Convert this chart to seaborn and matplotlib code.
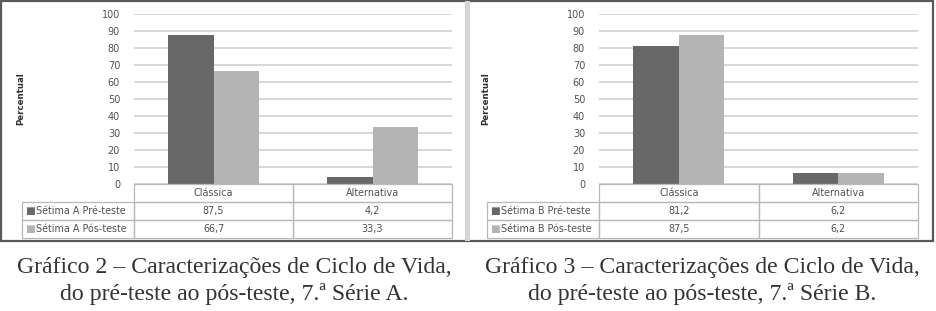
import matplotlib
matplotlib.use("Agg")
import matplotlib.pyplot as plt
import seaborn as sns
import pandas as pd
from matplotlib.patches import Rectangle

categories = ["Clássica", "Alternativa"]
series_a = ["Sétima A Pré-teste", "Sétima A Pós-teste"]
values_a_pre = [87.5, 4.2]
values_a_pos = [66.7, 33.3]
series_b = ["Sétima B Pré-teste", "Sétima B Pós-teste"]
values_b_pre = [81.2, 6.2]
values_b_pos = [87.5, 6.2]
y_ticks = [0, 10, 20, 30, 40, 50, 60, 70, 80, 90, 100]
captions = [
    "Gráfico 2 – Caracterizações de Ciclo de Vida,\ndo pré-teste ao pós-teste, 7.ª Série A.",
    "Gráfico 3 – Caracterizações de Ciclo de Vida,\ndo pré-teste ao pós-teste, 7.ª Série B.",
]

sns.set_theme(style="white")
plt.rcParams["font.family"] = ["DejaVu Sans"]

W, H = 936, 311
fig = plt.figure(figsize=(W / 100, H / 100), dpi=100)
fig.patch.set_facecolor("white")

DARK = "#686868"
LIGHT = "#b4b4b4"
GRID = "#d4d4d4"
TXT = "#505050"
EDGE = "#b8b8b8"


def fx(px):
    return px / W


def fy(py):
    return 1 - py / H


# frame
fig.patches.append(Rectangle((fx(1), fy(241)), fx(932), (240) / H, transform=fig.transFigure,
                             fill=False, edgecolor="#5a5a5a", linewidth=1.6, zorder=0))
fig.patches.append(Rectangle((fx(465), fy(241)), fx(5), (240) / H, transform=fig.transFigure,
                             facecolor="#d6d6d6", edgecolor="none", zorder=0))


def panel(x0, x1, series, pre, pos, caption, cap_x):
    pw = x1 - x0
    ph = 170
    ax = fig.add_axes([fx(x0), fy(184), fx(pw), ph / H])
    df = pd.DataFrame({
        "cat": categories * 2,
        "serie": [series[0]] * 2 + [series[1]] * 2,
        "val": list(pre) + list(pos),
    })
    sns.barplot(data=df, x="cat", y="val", hue="serie", order=categories,
                hue_order=series, palette=[DARK, LIGHT], width=0.57,
                saturation=1, ax=ax, legend=False, zorder=3, linewidth=0)
    ax.set_ylim(0, 100)
    ax.set_xlim(-0.5, 1.5)
    ax.set_yticks(y_ticks)
    ax.yaxis.grid(True, color=GRID, linewidth=1.3, zorder=0)
    ax.set_axisbelow(True)
    for s in ax.spines.values():
        s.set_visible(False)
    ax.tick_params(axis="y", length=0, pad=10, labelsize=7, labelcolor=TXT)
    ax.set_xticks([])
    ax.set_xlabel("")
    ax.set_ylabel("Percentual", fontsize=6.2, fontweight="bold", color="#303030")
    ax.yaxis.set_label_coords(-109 / pw, 0.5)

    # data table below the plot (axes-fraction layout)
    rh = 18 / ph
    lab_l = -112 / pw
    colw = 0.5

    def cell(xl, yb, w, h):
        ax.add_patch(Rectangle((xl, yb), w, h, transform=ax.transAxes, fill=False,
                               edgecolor=EDGE, linewidth=0.9, clip_on=False, zorder=4))

    for j, cat in enumerate(categories):
        cell(j * colw, -rh, colw, rh)
        ax.text(j * colw + colw / 2, -rh / 2, cat, transform=ax.transAxes,
                ha="center", va="center", fontsize=6.9, color=TXT)
    rows = [(series[0], pre, DARK), (series[1], pos, LIGHT)]
    for i, (name, vals, col) in enumerate(rows):
        yb = -rh * (i + 2)
        cell(lab_l, yb, -lab_l, rh)
        ax.text(-104 / pw, yb + rh / 2, "■", transform=ax.transAxes,
                ha="center", va="center", fontsize=7.5, color=col)
        ax.text(-98 / pw, yb + rh / 2, name, transform=ax.transAxes,
                ha="left", va="center", fontsize=6.9, color=TXT)
        for j, v in enumerate(vals):
            cell(j * colw, yb, colw, rh)
            ax.text(j * colw + colw / 2, yb + rh / 2, f"{v:.1f}".replace(".", ","),
                    transform=ax.transAxes, ha="center", va="center",
                    fontsize=6.9, color=TXT)

    fig.text(fx(cap_x), fy(281), caption, ha="center", va="center",
             fontsize=17.1, family="Liberation Serif", color="#333333",
             linespacing=1.26)
    return ax


panel(134, 452, series_a, values_a_pre, values_a_pos, captions[0], 234)
panel(599, 918, series_b, values_b_pre, values_b_pos, captions[1], 702)

fig.savefig("out.png", dpi=100, facecolor="white")
